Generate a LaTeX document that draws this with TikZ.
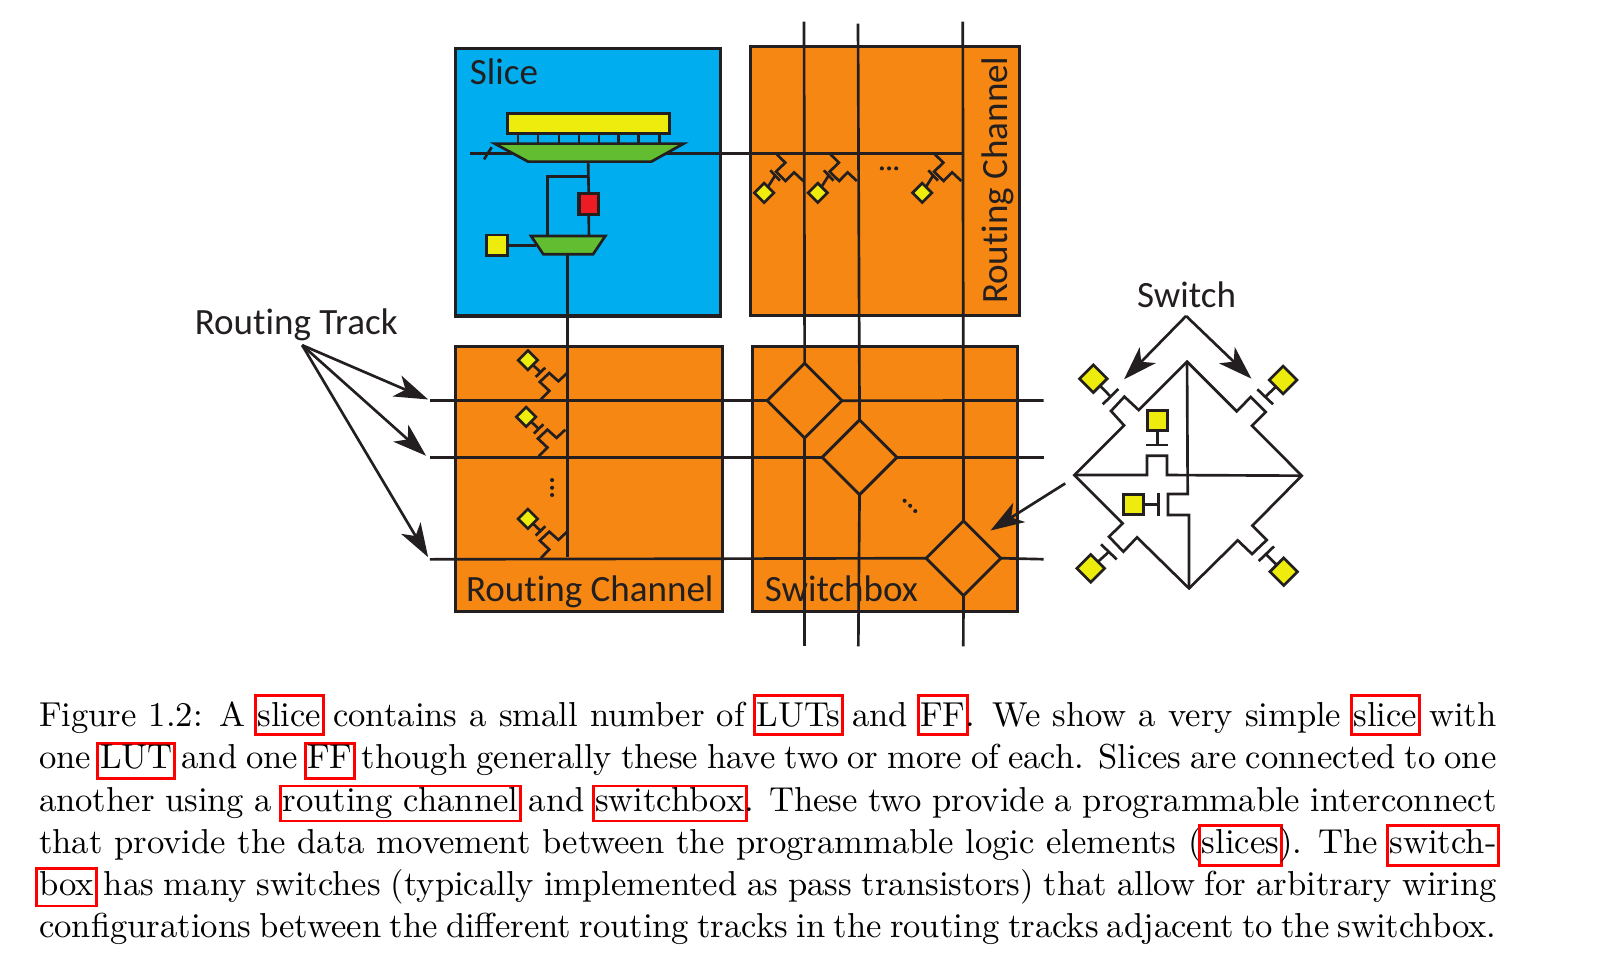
\documentclass[tikz,border=0pt]{standalone}
\usepackage{fontspec}
\usepackage{xcolor}
\usetikzlibrary{shapes.geometric,arrows.meta}
\newfontfamily\lblfont[Ligatures=NoCommon]{Carlito}
\definecolor{inkc}{HTML}{231F20}
\definecolor{bluec}{HTML}{00AEEF}
\definecolor{orangec}{HTML}{F68712}
\definecolor{yellowc}{HTML}{EDEC0C}
\definecolor{greenc}{HTML}{62BD31}
\definecolor{redc}{HTML}{ED1C24}
\newlength\rbw \newlength\rbt \newlength\rbp
\setlength\rbt{0.85pt}\setlength\rbp{1.05pt}
\newcommand{\rb}[3]{\setbox0=\hbox{#3}\setlength\rbw{\wd0}\addtolength\rbw{2\rbp}%
\hbox{\rlap{\kern-\rbp\textcolor{red}{\vrule width\rbw height #1 depth -\dimexpr#1-\rbt\relax}}%
\rlap{\kern-\rbp\textcolor{red}{\vrule width\rbw height -\dimexpr#2-\rbt\relax depth #2}}%
\rlap{\kern-\rbp\textcolor{red}{\vrule width\rbt height #1 depth #2}}%
\rlap{\kern-\rbp\kern\rbw\kern-\rbt\textcolor{red}{\vrule width\rbt height #1 depth #2}}%
\box0}}
\tikzset{
 x=1pt,y=-1pt,
 wire/.style={draw=inkc,line width=2.6pt,line join=miter},
 boxb/.style={draw=inkc,line width=3pt,inner sep=0pt,outer sep=0pt,anchor=north west},
 ydia/.style={diamond,aspect=1,draw=inkc,fill=yellowc,line width=2.6pt,minimum size=19pt,inner sep=0pt,outer sep=0pt},
 ysq/.style={rectangle,draw=inkc,fill=yellowc,line width=2.8pt,inner sep=0pt,outer sep=0pt,minimum size=20pt},
 swbox/.style={diamond,aspect=1,draw=inkc,fill=orangec,line width=2.8pt,minimum size=73pt,inner sep=0pt,outer sep=0pt},
 lbl/.style={font=\lblfont\fontsize{36.2}{40}\selectfont,text=inkc,anchor=base west,inner sep=0pt},
 capl/.style={anchor=base west,inner sep=0pt,scale=3.38,transform shape,text=black},
 ptr/.style={draw=inkc,line width=2.6pt,-{Stealth[length=33pt,width=22pt,inset=9pt]}},
 dotc/.style={fill=inkc,draw=none},
 swtop/.pic={
  \draw[wire] (0,.7)--(8.2,8.8)--(-.8,17.6)--(8.5,26.7)--(16.8,18.3)--(25.8,26.7);
  \draw[wire] (-6.4,16.3)--(3,26.4);
  \node[ydia] (-g) at (-12.4,38.3) {};
  \draw[wire] (-1.7,21.3)--(-g);
 },
 swbot/.pic={
  \draw[wire] (0,-1)--(8.5,-9.6)--(-.8,-18.3)--(8.5,-27)--(17.4,-19)--(25.9,-27);
  \draw[wire] (-4.8,-23.2)--(4.6,-32.3);
  \node[ydia] (-g) at (-12.4,-39.5) {};
  \draw[wire] (0,-27.8)--(-g);
 }
}
\begin{document}
\begin{tikzpicture}
\useasboundingbox (0,0) rectangle (1568,947);
% blocks
\node[boxb,fill=bluec,minimum width=259pt,minimum height=261pt] (slice) at (444.6,47.5) {};
\node[boxb,fill=orangec,minimum width=263pt,minimum height=263pt] (rcv) at (732.3,45.4) {};
\node[boxb,fill=orangec,minimum width=260.5pt,minimum height=258.3pt] (rch) at (444.8,338.3) {};
\node[boxb,fill=orangec,minimum width=259.3pt,minimum height=258.3pt] (sbox) at (734.3,338.3) {};
% labels
\node[lbl] (tslice) at (458.5,82.2) {Slice};
\node[lbl,rotate=90] (trcv) at (984,297) {Routing Channel};
\node[lbl] (trch) at (454.8,587.4) {Routing Channel};
\node[lbl] (tsb) at (746.5,587.4) {Switchbox};
\node[lbl] (trt) at (190,327) {Routing Track};
\node[lbl] (tsw) at (1110,300.5) {Switch};
% coordinates
\coordinate (v1t) at (785,21); \coordinate (v2t) at (837.7,23); \coordinate (v3t) at (940,21);
\coordinate (v1b) at (785.6,631); \coordinate (v2b) at (838,631); \coordinate (v3b) at (940.5,631);
\coordinate (t1l) at (419.7,391.2); \coordinate (t2l) at (419.7,446.5); \coordinate (t3l) at (419.7,546.1);
\coordinate (t1r) at (1019,391); \coordinate (t2r) at (1019,446.5); \coordinate (t3r) at (1019,546);
% switchbox diamonds
\node[swbox] (d1) at (785.6,391.2) {};
\node[swbox] (d2) at (839.2,446.5) {};
\node[swbox] (d3) at (940.7,545) {};
% tracks
\draw[wire] (v1t) -- (d1.north); \draw[wire] (d1.south) -- (v1b);
\draw[wire] (v2t) -- (d2.north); \draw[wire] (d2.south) -- (v2b);
\draw[wire] (v3t) -- (d3.north); \draw[wire] (d3.south) -- (v3b);
\draw[wire] (t1l) -- (d1.west); \draw[wire] (d1.east) -- (t1r);
\draw[wire] (t2l) -- (d2.west); \draw[wire] (d2.east) -- (t2r);
\draw[wire] (t3l) -- (d3.west); \draw[wire] (d3.east) -- (t3r);
% slice internals
\coordinate (inL) at (458.7,149.7);
\coordinate (trE) at (940,149.7);
\draw[wire] (inL) -- (500,149.7);
\draw[wire] (472.6,155.6) -- (480,143.8);
\draw[wire] (650,149.7) -- (trE);
\foreach \px in {505.8,525.3,545.8,565.2,584.7,604.1,623.6,644.1}
  \draw[wire] (\px,130) -- (\px,140);
\node[boxb,fill=yellowc,minimum width=158pt,minimum height=19.6pt] (lut) at (495.7,110.6) {};
\draw[wire,fill=greenc] (483,140.2) -- (667.5,140.2) -- (635.9,157.8) -- (515.6,157.8) -- cycle;
\node[rectangle,draw=inkc,fill=redc,line width=3pt,inner sep=0pt,outer sep=0pt,minimum width=19pt,minimum height=20.2pt] (ff) at (574.8,198.9) {};
\draw[wire] (574.2,157.8) -- (ff.north);
\draw[wire] (574.2,172.5) -- (534.6,172.5) -- (534.6,230.4);
\draw[wire] (ff.south) -- (575,230.4);
\draw[wire,fill=greenc] (518.5,230.4) -- (591,230.4) -- (579,248.3) -- (530.5,248.3) -- cycle;
\node[ysq] (sel) at (485.4,239.5) {};
\draw[wire] (sel.east) -- (523,239.5);
\draw[wire] (554.3,248.3) -- (554.3,544.2);
% programmable switches
\pic (a1) at (758.5,150) {swtop};
\pic (a2) at (810.8,150) {swtop};
\pic (a3) at (912.8,150) {swtop};
\pic (b1) at (527.8,391.2) {swbot};
\pic (b2) at (526,446.5) {swbot};
\pic (b3) at (527.8,546.1) {swbot};
% dots
\foreach \dx/\dy in {861/164.4,868/164.4,875/164.4,539/468.7,539/476.2,539/483.3,883.2/488.9,888.6/493.8,893.6/499}
  \fill[dotc] (\dx,\dy) circle (2pt);
% arrows
\coordinate (rtS) at (295,337);
\draw[ptr] (rtS) -- (418,390);
\draw[ptr] (rtS) -- (416,445);
\draw[ptr] (rtS) -- (418,544);
\coordinate (swS) at (1158,308.5);
\draw[ptr] (swS) -- (1097.4,370.4);
\draw[ptr] (swS) -- (1221.8,369.7);
\coordinate (d3A) at (1040,472);
\draw[ptr] (d3A) -- (967,518);
% switch detail
\begin{scope}[shift={(1015.4,263.6)},x=.3255pt,y=-.3255pt]
 \draw[wire] (441,275)--(296,420)--(253,380)--(213,423)--(252,466)--(103,615)
   --(248,760)--(207,800)--(250,845)--(291,802)--(447,955)
   --(593,811)--(636,852)--(680,810)--(637,767)--(785,617)
   --(636,467)--(677,426)--(632,381)--(590,424)--cycle;
 \draw[wire] (103,615)--(321,615)--(321,557)--(381,557)--(381,615)--(785,617);
 \draw[wire] (441,275)--(443,672)--(384,672)--(384,735)--(447,735)--(447,955);
 \node[ysq] (gt) at (352,452) {};
 \draw[wire] (gt.south)--(352,525);
 \draw[wire] (318,525)--(384,525);
 \node[ysq] (gl) at (280,703) {};
 \draw[wire] (gl.east)--(356,703);
 \draw[wire] (356,670)--(356,737);
 \node[ydia,minimum size=27pt] (gul) at (160,326) {};
 \draw[wire] (gul)--(210,378); \draw[wire] (188,403)--(235,357);
 \node[ydia,minimum size=27pt] (gur) at (729,330) {};
 \draw[wire] (gur)--(676,380); \draw[wire] (652,358)--(699,403);
 \node[ydia,minimum size=27pt] (gll) at (152,895) {};
 \draw[wire] (gll)--(207,845); \draw[wire] (183,823)--(230,868);
 \node[ydia,minimum size=27pt] (glr) at (731,905) {};
 \draw[wire] (glr)--(678,853); \draw[wire] (656,873)--(702,829);
\end{scope}
% caption
\node[capl] (c1) at (37.5,709) {\hbox to 421pt{Figure 1.2: A \rb{9.17pt}{2.96pt}{slice} contains a small number of \rb{9.17pt}{2.96pt}{LUTs} and \rb{9.17pt}{2.96pt}{FF}. We show a very simple \rb{9.17pt}{2.96pt}{slice} with}};
\node[capl] (c2) at (37.5,750.5) {\hbox to 421pt{one \rb{7.7pt}{3.25pt}{LUT} and one \rb{7.7pt}{3.25pt}{FF} though generally these have two or more of each. Slices are connected to one}};
\node[capl] (c3) at (37.5,792) {\hbox to 421pt{another using a \rb{7.7pt}{3.25pt}{routing channel} and \rb{7.7pt}{3.25pt}{switchbox}. These two provide a programmable interconnect}};
\node[capl] (c4) at (37.5,833) {\hbox to 421pt{that provide the data movement between the programmable logic elements (\rb{8.3pt}{3.85pt}{slices}). The \rb{8.3pt}{3.85pt}{switch-}}};
\node[capl] (c5) at (37.5,874) {\hbox to 421pt{\rb{8pt}{3.55pt}{box} has many switches (typically implemented as pass transistors) that allow for arbitrary wiring}};
\node[capl] (c6) at (37.5,915) {\hbox to 421pt{configurations between the different routing tracks in the routing tracks adjacent to the switchbox.}};
\end{tikzpicture}
\end{document}
